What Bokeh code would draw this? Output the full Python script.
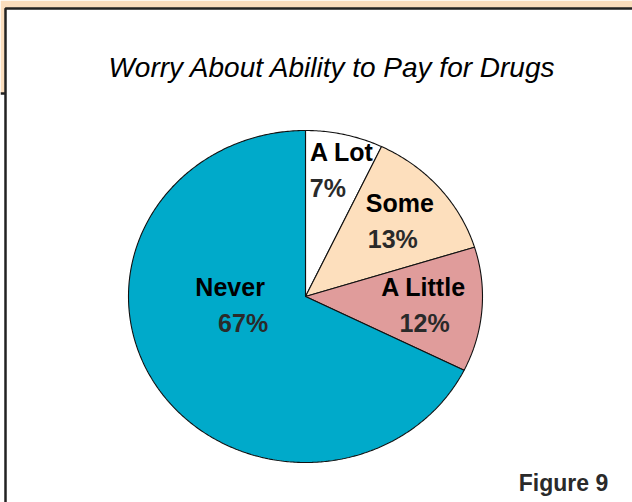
import numpy as np
from bokeh.plotting import figure
from bokeh.models import Range1d
from bokeh.core.properties import value
from bokeh.embed import file_html
from bokeh.resources import INLINE

# ---- data ----
categories = ["A Lot", "Some", "A Little", "Never"]
percents = [7, 13, 12, 67]
pct_labels = ["7%", "13%", "12%", "67%"]
slice_colors = ["#FFFFFF", "#FDDFBD", "#E09C9B", "#00AACA"]
title_text = "Worry About Ability to Pay for Drugs"
figure_label = "Figure 9"

# ---- layout ----
W, H = 632, 502
CX, CY = 305, 296       # pie centre (px)
RX, RY = 177, 166       # pie radii (px)
label_r = [0.78, 0.69, 0.675, 0.39]         # radial position of labels (fraction)
label_shift = [0.0, 0.0, 0.0, 24.0]         # angular shift of labels (deg)
name_dx = [6, 2, -1, -7]
pct_dx = [-8, -5, 0, 6]

p = figure(width=W, height=H, output_backend="svg", toolbar_location=None,
           x_range=Range1d(0, W), y_range=Range1d(H, 0),
           min_border=0, outline_line_color=None, background_fill_color="white",
           border_fill_color="white")
p.axis.visible = False
p.grid.visible = False

# frame decoration
p.quad(left=[0], right=[W], top=[0], bottom=[93], fill_color="#FADDBD", line_color=None)
p.quad(left=[5], right=[W + 5], top=[8], bottom=[H + 5], fill_color="white", line_color=None)
p.line([5, 5, W + 5], [H + 5, 8, 8], line_color="#222222", line_width=2.5)
p.line([0, 5], [93, 93], line_color="#222222", line_width=2.5)

# pie slices from data
vals = np.array(percents, dtype=float)
fr = vals / vals.sum()
ends = np.cumsum(fr) * 2 * np.pi
starts = ends - fr * 2 * np.pi
xs, ys = [], []
for s, e in zip(starts, ends):
    t = np.linspace(s, e, max(int((e - s) / 0.01), 4))
    xs.append(np.concatenate([[CX], CX + RX * np.sin(t), [CX]]).tolist())
    ys.append(np.concatenate([[CY], CY - RY * np.cos(t), [CY]]).tolist())
p.patches(xs, ys, fill_color=slice_colors, line_color="#111111", line_width=1.1)

# labels
mids = (starts + ends) / 2 + np.radians(label_shift)
lx = CX + RX * np.array(label_r) * np.sin(mids)
ly = CY - RY * np.array(label_r) * np.cos(mids)
p.text(x=(lx + np.array(name_dx)).tolist(), y=(ly - 18).tolist(), text=categories,
       text_font=value("Liberation Sans"), text_font_style="bold", text_font_size="25px",
       text_color="#000000", text_align="center", text_baseline="middle")
p.text(x=(lx + np.array(pct_dx)).tolist(), y=(ly + 18).tolist(), text=pct_labels,
       text_font=value("Liberation Sans"), text_font_style="bold", text_font_size="25px",
       text_color="#2A2A2A", text_align="center", text_baseline="middle")

# title
p.text(x=[332], y=[67], text=[title_text], text_font=value("Liberation Sans"),
       text_font_style="italic", text_font_size="28px", text_color="#000000",
       text_align="center", text_baseline="alphabetic")

# figure label
p.text(x=[563], y=[482], text=[figure_label], text_font=value("Liberation Sans"),
       text_font_style="bold", text_font_size="23px", text_color="#2A2A2A",
       text_align="center", text_baseline="middle")

open("out.html", "w").write(file_html(p, INLINE))
